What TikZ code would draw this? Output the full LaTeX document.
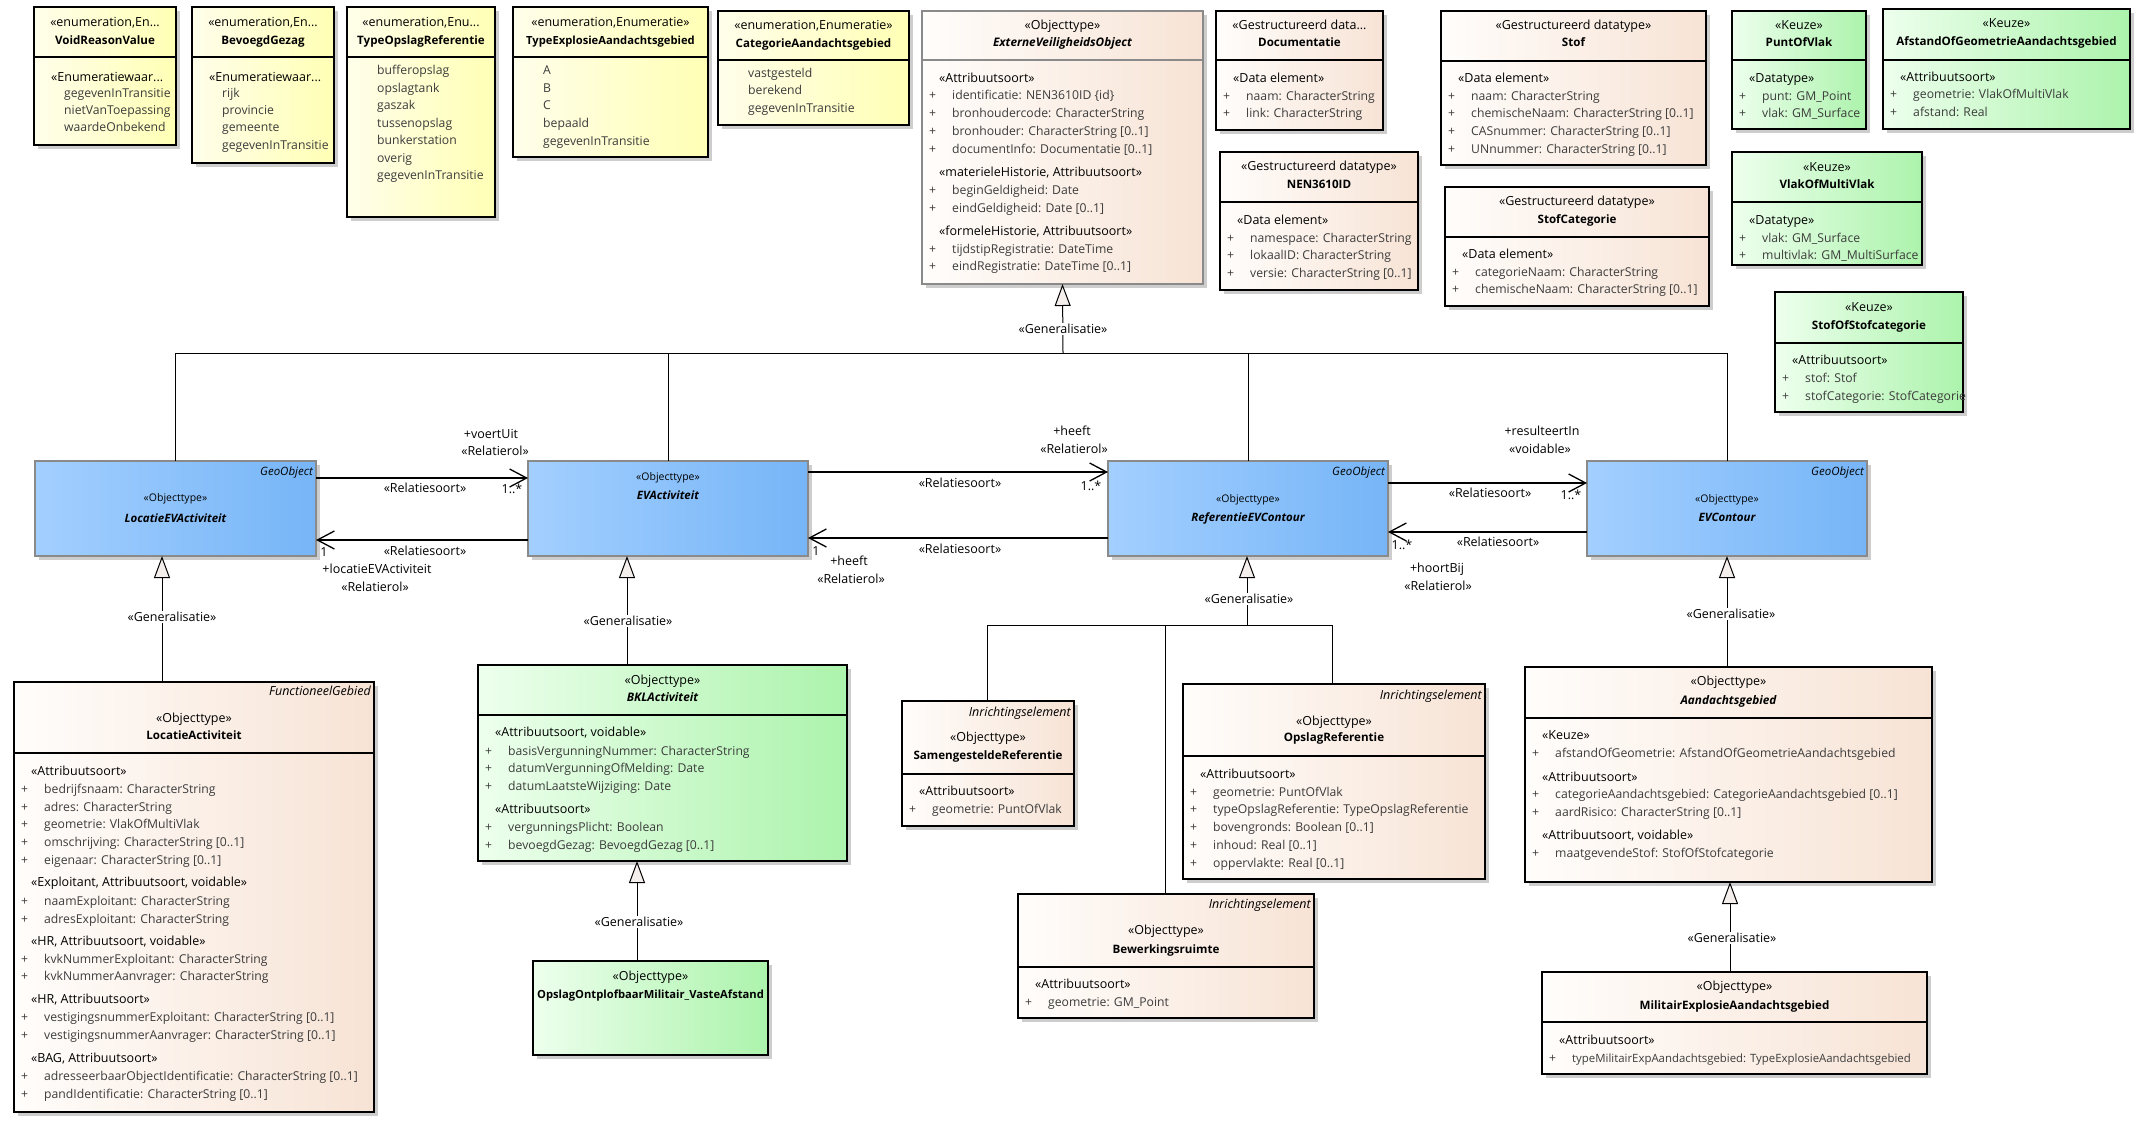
\documentclass[tikz,border=0pt]{standalone}
\usepackage{fontspec}
\setmainfont{Open Sans}
\usetikzlibrary{arrows.meta}
\definecolor{attrc}{HTML}{3C3C3C}
\definecolor{yelL}{HTML}{FFFEEA}\definecolor{yelR}{HTML}{FFFFB5}
\definecolor{peaL}{HTML}{FFFDFB}\definecolor{peaR}{HTML}{F7E3D5}
\definecolor{grnL}{HTML}{EDFFED}\definecolor{grnR}{HTML}{ACF3AC}
\definecolor{bluL}{HTML}{A3CFFF}\definecolor{bluR}{HTML}{76B5F7}
\definecolor{shad}{HTML}{CDCDCD}
\definecolor{trif}{HTML}{F4EEEC}
\definecolor{bordg}{HTML}{8A8A8A}
\newcommand\fsz{\fontsize{12.5}{15}\selectfont}
\newcommand\fsa{\fontsize{12.2}{15}\selectfont}
\newcommand\fsb{\fontsize{11.6}{14}\selectfont\bfseries}
\newcommand\fsbs{\fontsize{11.2}{14}\selectfont\bfseries}
\newcommand\fsbi{\fontsize{11.8}{14}\selectfont\bfseries\itshape}
\newcommand\fss{\fontsize{10.5}{13}\selectfont}
\newcommand\fssi{\fontsize{11.5}{14}\selectfont\itshape}
\newcommand\fssbi{\fontsize{11.5}{14}\selectfont\bfseries\itshape}
\newcount\tno
\newcommand\mkname{\global\advance\tno by 1 }
\tikzset{
  boxbase/.style={rectangle, inner sep=0pt, outer sep=0pt, line width=1.2pt, anchor=north west},
  yel/.style={boxbase, left color=yelL, right color=yelR, draw=black},
  pea/.style={boxbase, left color=peaL, right color=peaR, draw=black},
  peag/.style={boxbase, left color=peaL, right color=peaR, draw=bordg},
  grn/.style={boxbase, left color=grnL, right color=grnR, draw=black},
  blu/.style={boxbase, left color=bluL, right color=bluR, draw=bordg},
  txt/.style={inner sep=0pt, font=\fsz},
  atxt/.style={inner sep=0pt, font=\fsa, text=attrc},
  assoc/.style={draw=black, line width=1.3pt, -{Straight Barb[length=17pt,width=18pt,line width=1.3pt]}},
  genline/.style={draw=black, line width=1pt},
  genarrow/.style={genline, -{Triangle[length=22pt,width=16pt,fill=trif,line width=1pt]}},
  genlab/.style={txt, fill=white, inner sep=1.5pt},
}
% box: name x1 y1 x2 y2 divider style bordercolor
\newcommand\umlbox[8]{%
  \fill[shad] (#2+4,#3+4) rectangle (#4+4,#5+4);
  \pgfmathsetmacro\bw{#4-#2}\pgfmathsetmacro\bh{#5-#3}%
  \node[#7, minimum width=\bw pt, minimum height=\bh pt] (#1) at (#2,#3) {};
  \ifx&#6&\else\draw[#8, line width=1.2pt] (#1.west |- 0,#6) -- (#1.east |- 0,#6);\fi
}
\newcommand\ctext[4][]{\mkname\node[txt,anchor=mid,#1] (t\the\tno) at (#2.north |- 0,#3) {#4};}
\newcommand\rtext[4][]{\mkname\node[txt,anchor=mid east,font=\fsz\itshape,#1] (t\the\tno) at (#2,#3) {#4};}
\newcommand\stereo[3]{\mkname\node[txt,anchor=mid west] (t\the\tno) at (#1+17,#2) {#3};}
\newcommand\enumv[3]{\mkname\node[atxt,anchor=mid west] (t\the\tno) at (#1+30,#2) {#3};}
\newcommand\attrl[4][]{\mkname\node[atxt,anchor=mid west] (t\the\tno) at (#2+7,#3) {+};%
  \mkname\node[atxt,anchor=mid west,#1] (t\the\tno) at (#2+30,#3) {#4};}
\newcommand\lab[3]{\mkname\node[txt,anchor=mid] (t\the\tno) at (#1,#2) {#3};}
\newcommand\glab[3]{\mkname\node[genlab,anchor=mid] (t\the\tno) at (#1,#2) {#3};}
\begin{document}
\begin{tikzpicture}[x=1pt,y=-1pt]
\fill[white] (0,0) rectangle (2153,1130);
\useasboundingbox (0,0) rectangle (2153,1130);

% ---------- enumerations ----------
\umlbox{vrv}{34}{7}{176}{145}{57}{yel}{black}
\ctext{vrv}{24}{«enumeration,En...}
\ctext[font=\fsb]{vrv}{42}{VoidReasonValue}
\stereo{34}{79}{«Enumeratiewaar...}
\enumv{34}{95}{gegevenInTransitie}
\enumv{34}{112}{nietVanToepassing}
\enumv{34}{129}{waardeOnbekend}

\umlbox{bg}{192}{7}{334}{163}{57}{yel}{black}
\ctext{bg}{24}{«enumeration,En...}
\ctext[font=\fsb]{bg}{42}{BevoegdGezag}
\stereo{192}{79}{«Enumeratiewaar...}
\enumv{192}{95}{rijk}
\enumv{192}{112}{provincie}
\enumv{192}{129}{gemeente}
\enumv{192}{147}{gegevenInTransitie}

\umlbox{tor}{347}{7}{495}{217}{57}{yel}{black}
\ctext{tor}{24}{«enumeration,Enu...}
\ctext[font=\fsb]{tor}{42}{TypeOpslagReferentie}
\enumv{347}{72}{bufferopslag}
\enumv{347}{90}{opslagtank}
\enumv{347}{107}{gaszak}
\enumv{347}{125}{tussenopslag}
\enumv{347}{142}{bunkerstation}
\enumv{347}{160}{overig}
\enumv{347}{177}{gegevenInTransitie}

\umlbox{tea}{513}{7}{708}{157}{57}{yel}{black}
\ctext{tea}{24}{«enumeration,Enumeratie»}
\ctext[font=\fsbs]{tea}{42}{TypeExplosieAandachtsgebied}
\enumv{513}{72}{A}
\enumv{513}{90}{B}
\enumv{513}{107}{C}
\enumv{513}{125}{bepaald}
\enumv{513}{143}{gegevenInTransitie}

\umlbox{cag}{718}{11}{909}{125}{60}{yel}{black}
\ctext{cag}{27}{«enumeration,Enumeratie»}
\ctext[font=\fsb]{cag}{45}{CategorieAandachtsgebied}
\enumv{718}{75}{vastgesteld}
\enumv{718}{92}{berekend}
\enumv{718}{110}{gegevenInTransitie}

% ---------- ExterneVeiligheidsObject ----------
\umlbox{evo}{922}{11}{1203}{284}{60}{peag}{bordg}
\ctext{evo}{27}{«Objecttype»}
\ctext[font=\fsbi]{evo}{44}{ExterneVeiligheidsObject}
\stereo{922}{80}{«Attribuutsoort»}
\attrl{922}{97}{identificatie: NEN3610ID \{id\}}
\attrl{922}{115}{bronhoudercode: CharacterString}
\attrl{922}{133}{bronhouder: CharacterString [0..1]}
\attrl{922}{151}{documentInfo: Documentatie [0..1]}
\stereo{922}{174}{«materieleHistorie, Attribuutsoort»}
\attrl{922}{192}{beginGeldigheid: Date}
\attrl{922}{210}{eindGeldigheid: Date [0..1]}
\stereo{922}{233}{«formeleHistorie, Attribuutsoort»}
\attrl{922}{251}{tijdstipRegistratie: DateTime}
\attrl{922}{268}{eindRegistratie: DateTime [0..1]}

% ---------- data types ----------
\umlbox{doc}{1216}{11}{1383}{130}{60}{pea}{black}
\ctext{doc}{27}{«Gestructureerd data...}
\ctext[font=\fsb]{doc}{44}{Documentatie}
\stereo{1216}{80}{«Data element»}
\attrl{1216}{98}{naam: CharacterString}
\attrl{1216}{115}{link: CharacterString}

\umlbox{nen}{1220}{152}{1418}{290}{202}{pea}{black}
\ctext{nen}{168}{«Gestructureerd datatype»}
\ctext[font=\fsb]{nen}{186}{NEN3610ID}
\stereo{1220}{222}{«Data element»}
\attrl{1220}{240}{namespace: CharacterString}
\attrl{1220}{257}{lokaalID: CharacterString}
\attrl{1220}{275}{versie: CharacterString [0..1]}

\umlbox{stof}{1441}{11}{1706}{165}{61}{pea}{black}
\ctext{stof}{27}{«Gestructureerd datatype»}
\ctext[font=\fsb]{stof}{44}{Stof}
\stereo{1441}{80}{«Data element»}
\attrl{1441}{98}{naam: CharacterString}
\attrl{1441}{115}{chemischeNaam: CharacterString [0..1]}
\attrl{1441}{133}{CASnummer: CharacterString [0..1]}
\attrl{1441}{151}{UNnummer: CharacterString [0..1]}

\umlbox{stofcat}{1445}{187}{1709}{306}{237}{pea}{black}
\ctext{stofcat}{203}{«Gestructureerd datatype»}
\ctext[font=\fsb]{stofcat}{221}{StofCategorie}
\stereo{1445}{256}{«Data element»}
\attrl{1445}{274}{categorieNaam: CharacterString}
\attrl{1445}{291}{chemischeNaam: CharacterString [0..1]}

% ---------- Keuze ----------
\umlbox{pov}{1732}{11}{1866}{129}{60}{grn}{black}
\ctext{pov}{27}{«Keuze»}
\ctext[font=\fsb]{pov}{44}{PuntOfVlak}
\stereo{1732}{80}{«Datatype»}
\attrl{1732}{98}{punt: GM\_Point}
\attrl{1732}{115}{vlak: GM\_Surface}

\umlbox{aog}{1883}{9}{2130}{129}{60}{grn}{black}
\ctext{aog}{25}{«Keuze»}
\ctext[font=\fsb]{aog}{43}{AfstandOfGeometrieAandachtsgebied}
\stereo{1883}{79}{«Attribuutsoort»}
\attrl{1883}{96}{geometrie: VlakOfMultiVlak}
\attrl{1883}{114}{afstand: Real}

\umlbox{vomv}{1732}{152}{1922}{265}{202}{grn}{black}
\ctext{vomv}{169}{«Keuze»}
\ctext[font=\fsb]{vomv}{186}{VlakOfMultiVlak}
\stereo{1732}{222}{«Datatype»}
\attrl{1732}{240}{vlak: GM\_Surface}
\attrl{1732}{257}{multivlak: GM\_MultiSurface}

\umlbox{sosc}{1775}{292}{1963}{412}{343}{grn}{black}
\ctext{sosc}{309}{«Keuze»}
\ctext[font=\fsb]{sosc}{327}{StofOfStofcategorie}
\stereo{1775}{362}{«Attribuutsoort»}
\attrl{1775}{380}{stof: Stof}
\attrl{1775}{398}{stofCategorie: StofCategorie}

% ---------- blue GeoObject boxes ----------
\umlbox{locev}{35}{461}{316}{556}{}{blu}{bordg}
\rtext[font=\fssi]{313}{473}{GeoObject}
\ctext[font=\fss]{locev}{499}{«Objecttype»}
\ctext[font=\fssbi]{locev}{520}{LocatieEVActiviteit}

\umlbox{evact}{528}{461}{808}{556}{}{blu}{bordg}
\ctext[font=\fss]{evact}{478}{«Objecttype»}
\ctext[font=\fssbi]{evact}{497}{EVActiviteit}

\umlbox{refev}{1108}{461}{1388}{556}{}{blu}{bordg}
\rtext[font=\fssi]{1385}{473}{GeoObject}
\ctext[font=\fss]{refev}{500}{«Objecttype»}
\ctext[font=\fssbi]{refev}{519}{ReferentieEVContour}

\umlbox{evcont}{1587}{461}{1867}{556}{}{blu}{bordg}
\rtext[font=\fssi]{1864}{473}{GeoObject}
\ctext[font=\fss]{evcont}{500}{«Objecttype»}
\ctext[font=\fssbi]{evcont}{519}{EVContour}

% ---------- LocatieActiviteit ----------
\umlbox{locact}{14}{682}{374}{1112}{753}{pea}{black}
\rtext{371}{693}{FunctioneelGebied}
\ctext{locact}{720}{«Objecttype»}
\ctext[font=\fsb]{locact}{737}{LocatieActiviteit}
\stereo{14}{773}{«Attribuutsoort»}
\attrl{14}{791}{bedrijfsnaam: CharacterString}
\attrl{14}{809}{adres: CharacterString}
\attrl{14}{826}{geometrie: VlakOfMultiVlak}
\attrl{14}{844}{omschrijving: CharacterString [0..1]}
\attrl{14}{862}{eigenaar: CharacterString [0..1]}
\stereo{14}{884}{«Exploitant, Attribuutsoort, voidable»}
\attrl{14}{903}{naamExploitant: CharacterString}
\attrl{14}{921}{adresExploitant: CharacterString}
\stereo{14}{943}{«HR, Attribuutsoort, voidable»}
\attrl{14}{961}{kvkNummerExploitant: CharacterString}
\attrl{14}{978}{kvkNummerAanvrager: CharacterString}
\stereo{14}{1001}{«HR, Attribuutsoort»}
\attrl{14}{1019}{vestigingsnummerExploitant: CharacterString [0..1]}
\attrl{14}{1037}{vestigingsnummerAanvrager: CharacterString [0..1]}
\stereo{14}{1060}{«BAG, Attribuutsoort»}
\attrl{14}{1078}{adresseerbaarObjectIdentificatie: CharacterString [0..1]}
\attrl{14}{1096}{pandIdentificatie: CharacterString [0..1]}

% ---------- BKLActiviteit ----------
\umlbox{bkl}{478}{665}{847}{861}{715}{grn}{black}
\ctext{bkl}{682}{«Objecttype»}
\ctext[font=\fsbi]{bkl}{699}{BKLActiviteit}
\stereo{478}{734}{«Attribuutsoort, voidable»}
\attrl{478}{753}{basisVergunningNummer: CharacterString}
\attrl{478}{770}{datumVergunningOfMelding: Date}
\attrl{478}{788}{datumLaatsteWijziging: Date}
\stereo{478}{811}{«Attribuutsoort»}
\attrl{478}{829}{vergunningsPlicht: Boolean}
\attrl{478}{847}{bevoegdGezag: BevoegdGezag [0..1]}

\umlbox{oom}{533}{961}{768}{1055}{}{grn}{black}
\ctext{oom}{978}{«Objecttype»}
\ctext[font=\fsbs]{oom}{996}{OpslagOntplofbaarMilitair\_VasteAfstand}

% ---------- Inrichtingselementen ----------
\umlbox{samref}{902}{701}{1074}{826}{774}{pea}{black}
\rtext{1071}{714}{Inrichtingselement}
\ctext{samref}{739}{«Objecttype»}
\ctext[font=\fsb]{samref}{757}{SamengesteldeReferentie}
\stereo{902}{793}{«Attribuutsoort»}
\attrl{902}{811}{geometrie: PuntOfVlak}

\umlbox{opref}{1183}{684}{1485}{879}{756}{pea}{black}
\rtext{1482}{697}{Inrichtingselement}
\ctext{opref}{723}{«Objecttype»}
\ctext[font=\fsb]{opref}{739}{OpslagReferentie}
\stereo{1183}{776}{«Attribuutsoort»}
\attrl{1183}{794}{geometrie: PuntOfVlak}
\attrl{1183}{811}{typeOpslagReferentie: TypeOpslagReferentie}
\attrl{1183}{829}{bovengronds: Boolean [0..1]}
\attrl{1183}{847}{inhoud: Real [0..1]}
\attrl{1183}{865}{oppervlakte: Real [0..1]}

\umlbox{bew}{1018}{894}{1314}{1018}{967}{pea}{black}
\rtext{1311}{906}{Inrichtingselement}
\ctext{bew}{932}{«Objecttype»}
\ctext[font=\fsb]{bew}{951}{Bewerkingsruimte}
\stereo{1018}{986}{«Attribuutsoort»}
\attrl{1018}{1004}{geometrie: GM\_Point}

% ---------- Aandachtsgebied ----------
\umlbox{aag}{1525}{667}{1932}{882}{718}{pea}{black}
\ctext{aag}{683}{«Objecttype»}
\ctext[font=\fsbi]{aag}{702}{Aandachtsgebied}
\stereo{1525}{737}{«Keuze»}
\attrl{1525}{755}{afstandOfGeometrie: AfstandOfGeometrieAandachtsgebied}
\stereo{1525}{779}{«Attribuutsoort»}
\attrl{1525}{796}{categorieAandachtsgebied: CategorieAandachtsgebied [0..1]}
\attrl{1525}{814}{aardRisico: CharacterString [0..1]}
\stereo{1525}{837}{«Attribuutsoort, voidable»}
\attrl{1525}{855}{maatgevendeStof: StofOfStofcategorie}

\umlbox{mea}{1542}{972}{1927}{1074}{1022}{pea}{black}
\ctext{mea}{988}{«Objecttype»}
\ctext[font=\fsb]{mea}{1007}{MilitairExplosieAandachtsgebied}
\stereo{1542}{1042}{«Attribuutsoort»}
\attrl[font=\fontsize{11.4}{14}\selectfont]{1542}{1060}{typeMilitairExpAandachtsgebied: TypeExplosieAandachtsgebied}

% ---------- generalisations ----------
\coordinate (gt) at (1063,353);
\draw[genline] (locev.north) |- (gt);
\draw[genline] (evact.north) |- (gt);
\draw[genline] (refev.north) |- (gt);
\draw[genline] (evcont.north) |- (gt);
\draw[genarrow] (gt) -- (evo.south);
\glab{1063}{331}{«Generalisatie»}

\draw[genarrow] (locact.north -| 162,0) -- (locev.south -| 162,0);
\glab{172}{619}{«Generalisatie»}
\draw[genarrow] (bkl.north -| 627,0) -- (evact.south -| 627,0);
\glab{628}{623}{«Generalisatie»}
\draw[genarrow] (oom.north -| 637,0) -- (bkl.south -| 637,0);
\glab{639}{924}{«Generalisatie»}

\coordinate (rj) at (1247,625);
\draw[genline] (samref.north -| 987,0) |- (rj);
\draw[genline] (opref.north -| 1332,0) |- (rj);
\draw[genline] (bew.north -| 1165,0) |- (rj);
\draw[genarrow] (rj) -- (refev.south -| 1247,0);
\glab{1249}{601}{«Generalisatie»}

\draw[genarrow] (aag.north -| 1727,0) -- (evcont.south -| 1727,0);
\glab{1731}{616}{«Generalisatie»}
\draw[genarrow] (mea.north -| 1730,0) -- (aag.south -| 1730,0);
\glab{1732}{940}{«Generalisatie»}

% ---------- associations ----------
\draw[assoc] (locev.east |- 0,478) -- (evact.west |- 0,478);
\draw[assoc] (evact.west |- 0,540) -- (locev.east |- 0,540);
\draw[assoc] (evact.east |- 0,472) -- (refev.west |- 0,472);
\draw[assoc] (refev.west |- 0,538) -- (evact.east |- 0,538);
\draw[assoc] (refev.east |- 0,483) -- (evcont.west |- 0,483);
\draw[assoc] (evcont.west |- 0,532) -- (refev.east |- 0,532);

\lab{491}{436}{+voertUit}
\lab{495}{453}{«Relatierol»}
\lab{425}{490}{«Relatiesoort»}
\lab{512}{491}{1..*}
\lab{324}{554}{1}
\lab{425}{553}{«Relatiesoort»}
\lab{377}{571}{+locatieEVActiviteit}
\lab{375}{589}{«Relatierol»}

\lab{1072}{433}{+heeft}
\lab{1074}{451}{«Relatierol»}
\lab{960}{485}{«Relatiesoort»}
\lab{1091}{488}{1..*}
\lab{816}{553}{1}
\lab{849}{563}{+heeft}
\lab{851}{581}{«Relatierol»}
\lab{960}{551}{«Relatiesoort»}

\lab{1542}{433}{+resulteertIn}
\lab{1540}{451}{«voidable»}
\lab{1490}{495}{«Relatiesoort»}
\lab{1571}{497}{1..*}
\lab{1402}{547}{1..*}
\lab{1498}{544}{«Relatiesoort»}
\lab{1437}{570}{+hoortBij}
\lab{1438}{588}{«Relatierol»}
\end{tikzpicture}
\end{document}
